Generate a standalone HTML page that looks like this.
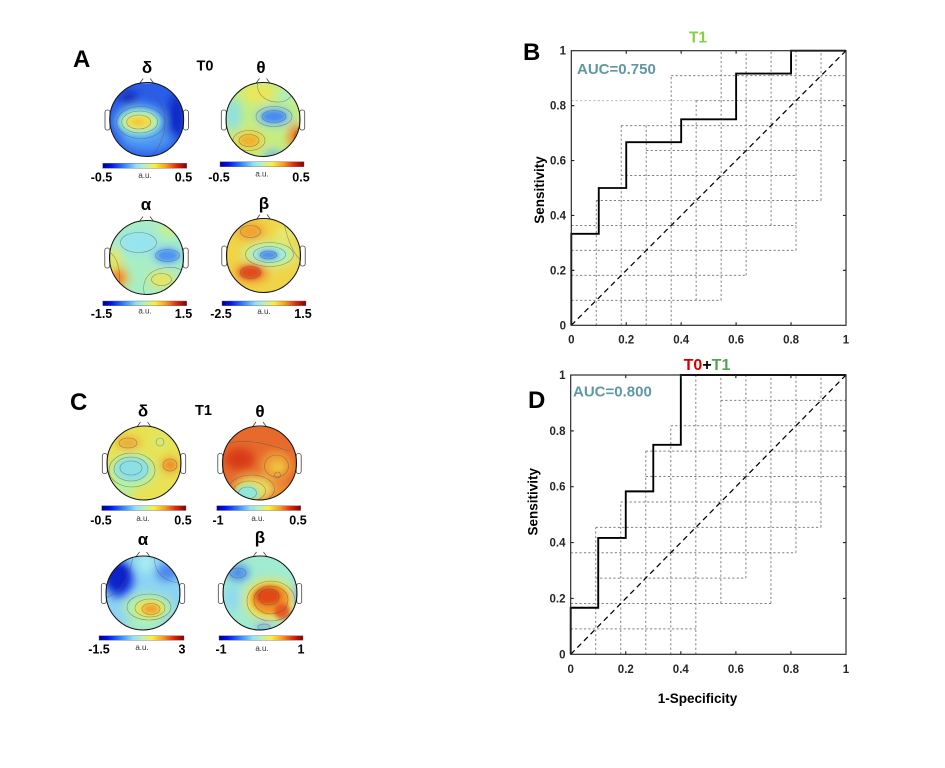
<!DOCTYPE html>
<html><head><meta charset="utf-8"><style>
html,body{margin:0;padding:0;background:#fff;}
svg{display:block;}
text{font-family:"Liberation Sans",Arial,sans-serif;}
</style></head><body>
<svg width="945" height="768" viewBox="0 0 945 768" xmlns="http://www.w3.org/2000/svg">
<defs>
<clipPath id="hc"><circle cx="0" cy="0" r="37"/></clipPath>
<filter id="b5" x="-100%" y="-100%" width="300%" height="300%"><feGaussianBlur stdDeviation="4.5"/></filter>
<filter id="b3" x="-100%" y="-100%" width="300%" height="300%"><feGaussianBlur stdDeviation="2.2"/></filter>
<linearGradient id="jet" x1="0" x2="1" y1="0" y2="0">
<stop offset="0" stop-color="#00008a"/>
<stop offset="0.1" stop-color="#0010f0"/>
<stop offset="0.25" stop-color="#3080ff"/>
<stop offset="0.4" stop-color="#90e0f8"/>
<stop offset="0.5" stop-color="#b8f0c0"/>
<stop offset="0.62" stop-color="#f8f040"/>
<stop offset="0.75" stop-color="#f8a020"/>
<stop offset="0.88" stop-color="#e02810"/>
<stop offset="1" stop-color="#800000"/>
</linearGradient>
<g id="deco">
<rect x="-41.7" y="-9.5" width="5" height="20" rx="2.2" fill="#fff" stroke="#444" stroke-width="0.8"/>
<rect x="36.7" y="-9.5" width="5" height="20" rx="2.2" fill="#fff" stroke="#444" stroke-width="0.8"/>
<path d="M-7,-36.3 L-3.5,-41 L3.5,-41 L7,-36.3 Z" fill="#fff" stroke="none"/>
<path d="M-7,-36.3 L-3.5,-41 M3.5,-41 L7,-36.3" fill="none" stroke="#444" stroke-width="0.8"/>
<circle r="37" fill="none" stroke="#111" stroke-width="1"/>
</g>
</defs>
<rect width="945" height="768" fill="#fff"/>

<!-- ===== Panel A ===== -->
<text x="73" y="67" font-size="24" font-weight="bold">A</text>
<text x="147" y="73" font-size="17" font-weight="bold" text-anchor="middle">δ</text>
<text x="205" y="70.5" font-size="14.5" font-weight="bold" text-anchor="middle">T0</text>
<text x="261" y="73" font-size="17" font-weight="bold" text-anchor="middle">θ</text>

<!-- A delta -->
<g transform="translate(146.7 119.5)">
<g clip-path="url(#hc)">
<rect x="-40" y="-40" width="80" height="80" fill="#2a5ee8"/>
<g filter="url(#b5)">
<ellipse cx="-18" cy="-21" rx="9" ry="7" fill="#0a20c0"/>
<ellipse cx="30" cy="-3" rx="8" ry="22" fill="#0a26c4"/>
<ellipse cx="0" cy="20" rx="26" ry="12" fill="#4c94f2"/>
<ellipse cx="-7" cy="2" rx="25" ry="17" fill="#6cc0f4"/>
</g>
<g filter="url(#b3)">
<ellipse cx="-7.5" cy="2.5" rx="20" ry="12" fill="#a8f0b8"/>
<ellipse cx="-7.5" cy="2.5" rx="14" ry="7" fill="#f2dc40"/>
<ellipse cx="-9" cy="2.5" rx="6" ry="3" fill="#f0c838"/>
</g>
<g fill="none" stroke="#555" stroke-width="0.6" opacity="0.6">
<ellipse cx="-8" cy="2.5" rx="12" ry="7"/>
<ellipse cx="-7" cy="2.5" rx="18" ry="11"/>
<ellipse cx="-6" cy="3" rx="24" ry="16"/>
<path d="M-10,-30 C5,-28 15,-20 18,-5 C20,10 15,25 5,37"/>
<ellipse cx="-18" cy="-21" rx="6" ry="4"/>
</g>
</g>
<use href="#deco"/>
</g>

<!-- A theta -->
<g transform="translate(263 119.5)">
<g clip-path="url(#hc)">
<rect x="-40" y="-40" width="80" height="80" fill="#c4ee80"/>
<g filter="url(#b5)">
<ellipse cx="-4" cy="-26" rx="16" ry="9" fill="#ece658"/>
<ellipse cx="-30" cy="-5" rx="9" ry="16" fill="#90e0e0"/>
<ellipse cx="11" cy="-3" rx="18" ry="10" fill="#80c8f2"/>
<ellipse cx="-14" cy="21" rx="15" ry="10" fill="#f0d040"/>
<ellipse cx="33" cy="18" rx="8" ry="14" fill="#f08a28"/>
<ellipse cx="10" cy="36" rx="10" ry="5" fill="#70b8f0"/>
<ellipse cx="24" cy="-24" rx="8" ry="6" fill="#a8eed0"/>
</g>
<g filter="url(#b3)">
<ellipse cx="11" cy="-3" rx="12" ry="6" fill="#4a8cf0"/>
<ellipse cx="-14" cy="21" rx="9" ry="5.5" fill="#f0b030"/>
<ellipse cx="36" cy="20" rx="4" ry="8" fill="#d84018"/>
</g>
<g fill="none" stroke="#555" stroke-width="0.6" opacity="0.6">
<ellipse cx="11" cy="-3" rx="12" ry="6"/>
<ellipse cx="11" cy="-3" rx="18" ry="10"/>
<ellipse cx="-14" cy="21" rx="10" ry="6"/>
<ellipse cx="-14" cy="21" rx="16" ry="10"/>
<path d="M-5,-37 C-8,-25 5,-15 20,-18 C28,-20 32,-28 30,-37"/>
<path d="M40,5 C30,10 28,25 36,35"/>
</g>
</g>
<use href="#deco"/>
</g>

<!-- A row1 colorbars -->
<rect x="102.7" y="163.3" width="84" height="5" fill="url(#jet)" stroke="#666" stroke-width="0.4"/>
<rect x="220" y="161.7" width="84" height="5" fill="url(#jet)" stroke="#666" stroke-width="0.4"/>
<g font-size="12.5" font-weight="bold" text-anchor="middle">
<text x="101.5" y="181.7">-0.5</text><text x="183.5" y="181.7">0.5</text>
<text x="219" y="181.7">-0.5</text><text x="301" y="181.7">0.5</text>
</g>
<g font-size="8" text-anchor="middle" fill="#333">
<text x="145" y="178">a.u.</text><text x="262" y="176.5">a.u.</text>
</g>

<text x="146" y="210" font-size="17" font-weight="bold" text-anchor="middle">α</text>
<text x="264" y="209" font-size="17" font-weight="bold" text-anchor="middle">β</text>

<!-- A alpha -->
<g transform="translate(146.5 257.5)">
<g clip-path="url(#hc)">
<rect x="-40" y="-40" width="80" height="80" fill="#a8eec4"/>
<g filter="url(#b5)">
<ellipse cx="-8" cy="-15" rx="20" ry="12" fill="#96e4f0"/>
<ellipse cx="21" cy="-2" rx="15" ry="9" fill="#80c4f2"/>
<ellipse cx="-32" cy="8" rx="8" ry="18" fill="#e8e660"/>
<ellipse cx="-28" cy="20" rx="10" ry="11" fill="#f0b040"/>
<ellipse cx="15" cy="22" rx="13" ry="8" fill="#ece458"/>
<ellipse cx="22" cy="-28" rx="9" ry="6" fill="#d0ee80"/>
</g>
<g filter="url(#b3)">
<ellipse cx="21" cy="-2" rx="11" ry="6" fill="#4c94f0"/>
<ellipse cx="-29" cy="21" rx="6" ry="7" fill="#f09030"/>
</g>
<g fill="none" stroke="#555" stroke-width="0.6" opacity="0.6">
<ellipse cx="21" cy="-2" rx="12" ry="6"/>
<ellipse cx="-8" cy="-15" rx="18" ry="10"/>
<path d="M-37,-5 C-28,0 -25,15 -28,37"/>
<path d="M-37,10 C-33,15 -30,25 -22,37"/>
<ellipse cx="15" cy="22" rx="10" ry="6"/>
<path d="M-2,37 C-5,25 0,12 20,10 C30,9 35,12 38,15"/>
</g>
</g>
<use href="#deco"/>
</g>

<!-- A beta -->
<g transform="translate(263.5 255.5)">
<g clip-path="url(#hc)">
<rect x="-40" y="-40" width="80" height="80" fill="#f0d448"/>
<g filter="url(#b5)">
<ellipse cx="-13" cy="-24" rx="14" ry="9" fill="#f0a030"/>
<ellipse cx="22" cy="-22" rx="10" ry="8" fill="#e4ec70"/>
<ellipse cx="6" cy="-1" rx="28" ry="14" fill="#cdf08a"/>
<ellipse cx="-12" cy="17" rx="17" ry="10" fill="#f09030"/>
</g>
<g filter="url(#b3)">
<ellipse cx="6" cy="-1" rx="20" ry="9" fill="#a4ecd0"/>
<ellipse cx="5" cy="-0.5" rx="10" ry="5" fill="#4c90f0"/>
<ellipse cx="-13" cy="17" rx="11" ry="6.5" fill="#e04c1c"/>
</g>
<g fill="none" stroke="#555" stroke-width="0.6" opacity="0.6">
<ellipse cx="5" cy="-0.5" rx="8" ry="4"/>
<ellipse cx="6" cy="-1" rx="16" ry="8"/>
<ellipse cx="6" cy="-1" rx="24" ry="12"/>
<ellipse cx="-13" cy="17" rx="10" ry="6"/>
<ellipse cx="-13" cy="-24" rx="10" ry="6"/>
<path d="M20,-37 C22,-20 30,0 38,5"/>
</g>
</g>
<use href="#deco"/>
</g>

<rect x="102.7" y="301" width="84" height="4.7" fill="url(#jet)" stroke="#666" stroke-width="0.4"/>
<rect x="222" y="301" width="84" height="4.7" fill="url(#jet)" stroke="#666" stroke-width="0.4"/>
<g font-size="12.5" font-weight="bold" text-anchor="middle">
<text x="101.5" y="318">-1.5</text><text x="183.5" y="318">1.5</text>
<text x="221" y="318">-2.5</text><text x="303" y="318">1.5</text>
</g>
<g font-size="8" text-anchor="middle" fill="#333">
<text x="145" y="313.5">a.u.</text><text x="264" y="314">a.u.</text>
</g>

<!-- ===== Panel C ===== -->
<text x="70" y="410" font-size="24" font-weight="bold">C</text>
<text x="143" y="416.5" font-size="17" font-weight="bold" text-anchor="middle">δ</text>
<text x="203.5" y="415" font-size="14.5" font-weight="bold" text-anchor="middle">T1</text>
<text x="260" y="417" font-size="17" font-weight="bold" text-anchor="middle">θ</text>

<!-- C delta -->
<g transform="translate(144 463)">
<g clip-path="url(#hc)">
<rect x="-40" y="-40" width="80" height="80" fill="#e8e254"/>
<g filter="url(#b5)">
<ellipse cx="-16" cy="-20" rx="12" ry="6" fill="#f0a030"/>
<ellipse cx="16" cy="-21" rx="6" ry="5" fill="#c8f090"/>
<ellipse cx="-12" cy="8" rx="23" ry="17" fill="#b4f0a8"/>
<ellipse cx="26" cy="2" rx="9" ry="8" fill="#f0a030"/>
<ellipse cx="-22" cy="28" rx="12" ry="8" fill="#b8f0a0"/>
</g>
<g filter="url(#b3)">
<ellipse cx="-12" cy="6" rx="17" ry="12" fill="#8ce0e4"/>
<ellipse cx="26" cy="2" rx="5" ry="4" fill="#f09028"/>
</g>
<g fill="none" stroke="#555" stroke-width="0.6" opacity="0.6">
<ellipse cx="-13" cy="5" rx="11" ry="7"/>
<ellipse cx="-13" cy="6" rx="17" ry="12"/>
<ellipse cx="-12" cy="7" rx="23" ry="17"/>
<ellipse cx="26" cy="2" rx="7" ry="6"/>
<ellipse cx="-16" cy="-20" rx="9" ry="5"/>
<circle cx="16" cy="-21" r="4"/>
</g>
</g>
<use href="#deco"/>
</g>

<!-- C theta -->
<g transform="translate(259.5 463)">
<g clip-path="url(#hc)">
<rect x="-40" y="-40" width="80" height="80" fill="#e66a2c"/>
<g filter="url(#b5)">
<ellipse cx="-20" cy="-4" rx="15" ry="11" fill="#d83a18"/>
<ellipse cx="17" cy="3" rx="15" ry="14" fill="#f0a838"/>
<ellipse cx="-6" cy="26" rx="20" ry="13" fill="#e8e060"/>
<ellipse cx="22" cy="28" rx="10" ry="8" fill="#f09030"/>
</g>
<g filter="url(#b3)">
<ellipse cx="-12" cy="30" rx="12" ry="8" fill="#90e8d8"/>
<ellipse cx="18" cy="4" rx="6" ry="5" fill="#f0c040"/>
</g>
<g fill="none" stroke="#555" stroke-width="0.6" opacity="0.6">
<ellipse cx="-12" cy="30" rx="9" ry="6"/>
<ellipse cx="-10" cy="28" rx="16" ry="10"/>
<ellipse cx="-8" cy="26" rx="23" ry="14"/>
<ellipse cx="17" cy="3" rx="12" ry="11"/>
<circle cx="18" cy="12" r="3"/>
<path d="M-30,-20 C-10,-25 10,-18 30,-12"/>
</g>
</g>
<use href="#deco"/>
</g>

<rect x="101.7" y="505.7" width="84.3" height="4.8" fill="url(#jet)" stroke="#666" stroke-width="0.4"/>
<rect x="216.7" y="505.7" width="84" height="4.8" fill="url(#jet)" stroke="#666" stroke-width="0.4"/>
<g font-size="12.5" font-weight="bold" text-anchor="middle">
<text x="101" y="524.5">-0.5</text><text x="183" y="524.5">0.5</text>
<text x="218" y="524.5">-1</text><text x="298" y="524.5">0.5</text>
</g>
<g font-size="8" text-anchor="middle" fill="#333">
<text x="143" y="521">a.u.</text><text x="258" y="521">a.u.</text>
</g>

<text x="143" y="545" font-size="17" font-weight="bold" text-anchor="middle">α</text>
<text x="260" y="543" font-size="17" font-weight="bold" text-anchor="middle">β</text>

<!-- C alpha -->
<g transform="translate(143 593)">
<g clip-path="url(#hc)">
<rect x="-40" y="-40" width="80" height="80" fill="#8cd4f2"/>
<g filter="url(#b5)">
<ellipse cx="-24" cy="-14" rx="15" ry="19" fill="#1a40e0"/>
<ellipse cx="24" cy="-21" rx="11" ry="9" fill="#4a82f0"/>
<ellipse cx="3" cy="-30" rx="8" ry="9" fill="#a8f0f0"/>
<ellipse cx="5" cy="15" rx="24" ry="14" fill="#b8f0a0"/>
<ellipse cx="0" cy="33" rx="20" ry="6" fill="#a8f0c0"/>
</g>
<g filter="url(#b3)">
<ellipse cx="-25" cy="-16" rx="10" ry="12" fill="#0c24c8"/>
<ellipse cx="7" cy="16" rx="14" ry="9" fill="#f0e050"/>
<ellipse cx="8" cy="16" rx="8" ry="5" fill="#f0a030"/>
</g>
<g fill="none" stroke="#555" stroke-width="0.6" opacity="0.6">
<ellipse cx="8" cy="16" rx="9" ry="5.5"/>
<ellipse cx="7" cy="15" rx="15" ry="9"/>
<ellipse cx="6" cy="14" rx="22" ry="13"/>
<path d="M-10,-37 C-12,-25 -15,-5 -37,5"/>
<path d="M12,-37 C10,-28 15,-12 37,-10"/>
</g>
</g>
<use href="#deco"/>
</g>

<!-- C beta -->
<g transform="translate(260 593)">
<g clip-path="url(#hc)">
<rect x="-40" y="-40" width="80" height="80" fill="#a0ecd0"/>
<g filter="url(#b5)">
<ellipse cx="-22" cy="-20" rx="11" ry="8" fill="#4a88f0"/>
<ellipse cx="-28" cy="5" rx="8" ry="14" fill="#90d8f0"/>
<ellipse cx="10" cy="7" rx="26" ry="21" fill="#f0e050"/>
<ellipse cx="38" cy="2" rx="4" ry="11" fill="#60a8f0"/>
<ellipse cx="4" cy="34" rx="8" ry="4" fill="#60a0f0"/>
</g>
<g filter="url(#b3)">
<ellipse cx="10" cy="6" rx="19" ry="15" fill="#f09428"/>
<ellipse cx="8" cy="3" rx="13" ry="9" fill="#e04818"/>
<ellipse cx="22" cy="18" rx="8" ry="8" fill="#e85a20"/>
</g>
<g fill="none" stroke="#555" stroke-width="0.6" opacity="0.6">
<ellipse cx="9" cy="4" rx="10" ry="8"/>
<ellipse cx="11" cy="7" rx="17" ry="14"/>
<ellipse cx="11" cy="8" rx="24" ry="20"/>
<ellipse cx="-22" cy="-20" rx="8" ry="5"/>
<ellipse cx="4" cy="34" rx="6" ry="3"/>
</g>
</g>
<use href="#deco"/>
</g>

<rect x="99" y="635.7" width="85" height="4.5" fill="url(#jet)" stroke="#666" stroke-width="0.4"/>
<rect x="219" y="635.7" width="84" height="4.5" fill="url(#jet)" stroke="#666" stroke-width="0.4"/>
<g font-size="12.5" font-weight="bold" text-anchor="middle">
<text x="99" y="653.5">-1.5</text><text x="182" y="653.5">3</text>
<text x="221" y="653.5">-1</text><text x="301" y="653.5">1</text>
</g>
<g font-size="8" text-anchor="middle" fill="#333">
<text x="142" y="650">a.u.</text><text x="262" y="651">a.u.</text>
</g>

<!-- ===== Panel B ===== -->
<text x="523" y="60" font-size="24" font-weight="bold">B</text>
<text x="698" y="42.7" font-size="15.5" font-weight="bold" fill="#86d046" text-anchor="middle">T1</text>
<g transform="translate(571.3 325.3) scale(274.7 -274.6)">
<g fill="none" stroke="#808080" stroke-width="0.0036" stroke-dasharray="0.008 0.008">
<path d="M0 .0909H.5455 M0 .1818H.6364 M0 .2727H.8182 M0 .3636H.8182 M.0909 .4545H.9091 M.1818 .5455H.8182 M.2727 .6364H.9091 M.1818 .7273H1 M.4545 .8182H1 M.3636 .9091H1"/>
<path d="M.0909 0V.4545 M.1818 0V.7273 M.2727 0V.7273 M.3636 0V.9091 M.4545 .0909V.8182 M.5455 .0909V1 M.6364 .1818V1 M.7273 .3636V1 M.8182 .2727V1 M.9091 .4545V1"/>
</g>
<path d="M0 .8182H.4545" fill="none" stroke="#bbb" stroke-width="0.0036" stroke-dasharray="0.008 0.008"/>
<line x1="0" y1="0" x2="1" y2="1" stroke="#000" stroke-width="0.0045" stroke-dasharray="0.02 0.014"/>
<polyline points="0,0 0,.3333 .1,.3333 .1,.5 .2,.5 .2,.6667 .4,.6667 .4,.75 .6,.75 .6,.9167 .8,.9167 .8,1 1,1" fill="none" stroke="#000" stroke-width="0.0068"/>
<rect x="0" y="0" width="1" height="1" fill="none" stroke="#262626" stroke-width="0.0042"/>
<path d="M.2 0V.011M.4 0V.011M.6 0V.011M.8 0V.011M.2 1V.989M.4 1V.989M.6 1V.989M.8 1V.989M0 .2H.011M0 .4H.011M0 .6H.011M0 .8H.011M1 .2H.989M1 .4H.989M1 .6H.989M1 .8H.989" stroke="#262626" stroke-width="0.0042" fill="none"/>
</g>
<text x="577" y="74" font-size="15" font-weight="bold" fill="#5f97a3">AUC=0.750</text>
<g font-size="11.5" font-weight="bold" fill="#262626" text-anchor="end">
<text x="566" y="329.3">0</text><text x="566" y="274.4">0.2</text><text x="566" y="219.5">0.4</text>
<text x="566" y="164.5">0.6</text><text x="566" y="109.6">0.8</text><text x="566" y="54.7">1</text>
</g>
<g font-size="11.5" font-weight="bold" fill="#262626" text-anchor="middle">
<text x="571.3" y="343.5">0</text><text x="626.2" y="343.5">0.2</text><text x="681.2" y="343.5">0.4</text>
<text x="736.1" y="343.5">0.6</text><text x="791.1" y="343.5">0.8</text><text x="846" y="343.5">1</text>
</g>
<text transform="translate(544 190) rotate(-90)" font-size="13.5" font-weight="bold" text-anchor="middle">Sensitivity</text>

<!-- ===== Panel D ===== -->
<text x="528" y="408" font-size="24" font-weight="bold">D</text>
<text x="707" y="370" font-size="16" font-weight="bold" text-anchor="middle"><tspan fill="#d40000">T0</tspan><tspan fill="#000">+</tspan><tspan fill="#52a452">T1</tspan></text>
<g transform="translate(570.7 654.3) scale(275.3 -279.3)">
<g fill="none" stroke="#808080" stroke-width="0.0036" stroke-dasharray="0.008 0.008">
<path d="M0 .0909H.4545 M0 .1818H.7273 M.0909 .2727H.6364 M0 .3636H.8182 M.0909 .4545H.9091 M.1818 .5455H.9091 M.2727 .6364H1 M.2727 .7273H1 M.3636 .8182H1 M.5455 .9091H1"/>
<path d="M.0909 0V.4545 M.1818 0V.5455 M.2727 0V.7273 M.3636 0V.8182 M.4545 0V1 M.5455 .1818V1 M.6364 .2727V1 M.7273 .1818V1 M.8182 .3636V1 M.9091 .4545V1"/>
</g>
<line x1="0" y1="0" x2="1" y2="1" stroke="#000" stroke-width="0.0045" stroke-dasharray="0.02 0.014"/>
<polyline points="0,0 0,.1667 .1,.1667 .1,.4167 .2,.4167 .2,.5833 .3,.5833 .3,.75 .4,.75 .4,1 1,1" fill="none" stroke="#000" stroke-width="0.0068"/>
<rect x="0" y="0" width="1" height="1" fill="none" stroke="#262626" stroke-width="0.0042"/>
<path d="M.2 0V.011M.4 0V.011M.6 0V.011M.8 0V.011M.2 1V.989M.4 1V.989M.6 1V.989M.8 1V.989M0 .2H.011M0 .4H.011M0 .6H.011M0 .8H.011M1 .2H.989M1 .4H.989M1 .6H.989M1 .8H.989" stroke="#262626" stroke-width="0.0042" fill="none"/>
</g>
<text x="573" y="396.7" font-size="15" font-weight="bold" fill="#5f97a3">AUC=0.800</text>
<g font-size="11.5" font-weight="bold" fill="#262626" text-anchor="end">
<text x="565.5" y="658.3">0</text><text x="565.5" y="602.4">0.2</text><text x="565.5" y="546.6">0.4</text>
<text x="565.5" y="490.7">0.6</text><text x="565.5" y="434.9">0.8</text><text x="565.5" y="379">1</text>
</g>
<g font-size="11.5" font-weight="bold" fill="#262626" text-anchor="middle">
<text x="570.7" y="673">0</text><text x="625.8" y="673">0.2</text><text x="680.8" y="673">0.4</text>
<text x="735.9" y="673">0.6</text><text x="791" y="673">0.8</text><text x="846" y="673">1</text>
</g>
<text transform="translate(537.5 501.7) rotate(-90)" font-size="13.5" font-weight="bold" text-anchor="middle">Sensitivity</text>
<text x="697.5" y="703" font-size="13.5" font-weight="bold" text-anchor="middle">1-Specificity</text>
</svg>
</body></html>
